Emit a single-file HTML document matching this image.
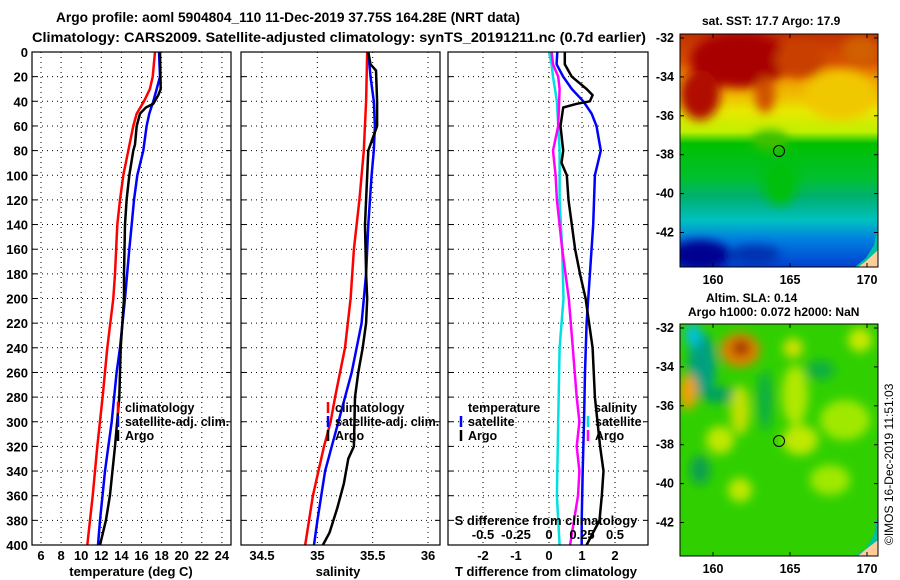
<!DOCTYPE html>
<html><head><meta charset="utf-8"><style>
body{margin:0;background:#fff;}
svg{display:block;font-family:"Liberation Sans",sans-serif;font-weight:bold;}
</style></head><body>
<svg id="c" width="900" height="580" viewBox="0 0 900 580">
<defs>
<linearGradient id="sst" x1="0" y1="0" x2="0" y2="1">
<stop offset="0" stop-color="#c03000"/><stop offset="0.12" stop-color="#d85000"/>
<stop offset="0.2" stop-color="#f0a000"/><stop offset="0.27" stop-color="#f0c000"/>
<stop offset="0.33" stop-color="#e8e800"/><stop offset="0.42" stop-color="#c0f000"/>
<stop offset="0.47" stop-color="#00c000"/><stop offset="0.62" stop-color="#00c030"/>
<stop offset="0.7" stop-color="#00b070"/><stop offset="0.8" stop-color="#00c0c0"/>
<stop offset="0.88" stop-color="#0080e0"/><stop offset="1" stop-color="#0040d0"/>
</linearGradient>
<filter id="bl"><feGaussianBlur stdDeviation="5"/></filter>
<clipPath id="m1"><rect x="680" y="34" width="198" height="233"/></clipPath>
<clipPath id="m2"><rect x="680" y="324" width="198" height="232"/></clipPath>
</defs>
<text x="56" y="22" font-size="14" textLength="464" lengthAdjust="spacingAndGlyphs">Argo profile: aoml 5904804_110 11-Dec-2019 37.75S 164.28E (NRT data)</text>
<text x="32" y="42" font-size="14" textLength="614" lengthAdjust="spacingAndGlyphs">Climatology: CARS2009. Satellite-adjusted climatology: synTS_20191211.nc (0.7d earlier)</text>
<g id="panels"></g>
<!-- SST map -->
<g clip-path="url(#m1)">
<rect x="680" y="34" width="198" height="233" fill="url(#sst)"/>
<g filter="url(#bl)">
<ellipse cx="740" cy="60" rx="50" ry="28" fill="#a80000"/>
<ellipse cx="700" cy="95" rx="20" ry="25" fill="#b01000"/>
<ellipse cx="800" cy="60" rx="25" ry="18" fill="#c84000"/>
<ellipse cx="860" cy="50" rx="18" ry="14" fill="#d06000"/>
<ellipse cx="840" cy="95" rx="35" ry="25" fill="#f0c800"/>
<ellipse cx="765" cy="95" rx="10" ry="18" fill="#d05000"/>
<ellipse cx="700" cy="255" rx="30" ry="15" fill="#000090"/>
<ellipse cx="755" cy="255" rx="25" ry="10" fill="#0030b0"/>
<ellipse cx="780" cy="180" rx="18" ry="25" fill="#00c010"/>
<ellipse cx="770" cy="140" rx="18" ry="10" fill="#40c000"/>
</g>
<path d="M878 225 L874 245 L866 258 L855 267 L878 267Z" fill="#00c0a0"/>
<path d="M878 250 L865 262 L858 267 L878 267Z" fill="#ffcc99"/>
</g>
<rect x="680" y="34" width="198" height="233" fill="none" stroke="#000"/>
<circle cx="779" cy="151" r="5.5" fill="none" stroke="#000"/>
<text x="702" y="25" font-size="12">sat. SST: 17.7 Argo: 17.9</text>
<!-- SLA map -->
<g clip-path="url(#m2)">
<rect x="680" y="324" width="198" height="232" fill="#30d000"/>
<g filter="url(#bl)">
<ellipse cx="702" cy="365" rx="14" ry="32" fill="#00a080"/>
<ellipse cx="720" cy="395" rx="20" ry="8" fill="#00a060"/>
<ellipse cx="693" cy="335" rx="8" ry="12" fill="#00c0e0"/>
<ellipse cx="740" cy="350" rx="20" ry="17" fill="#e08000"/>
<ellipse cx="741" cy="348" rx="9" ry="8" fill="#a03000"/>
<ellipse cx="688" cy="392" rx="9" ry="18" fill="#f0a000"/>
<ellipse cx="740" cy="410" rx="10" ry="25" fill="#c0e000"/>
<ellipse cx="795" cy="395" rx="13" ry="30" fill="#b0e800"/>
<ellipse cx="800" cy="440" rx="18" ry="15" fill="#c0e800"/>
<ellipse cx="720" cy="440" rx="14" ry="14" fill="#c0e800"/>
<ellipse cx="740" cy="490" rx="12" ry="12" fill="#c0e800"/>
<ellipse cx="860" cy="340" rx="12" ry="12" fill="#c8e800"/>
<ellipse cx="793" cy="348" rx="10" ry="10" fill="#d0e000"/>
<ellipse cx="845" cy="420" rx="25" ry="20" fill="#a0e800"/>
<ellipse cx="830" cy="480" rx="20" ry="15" fill="#a0e800"/>
<ellipse cx="765" cy="400" rx="8" ry="30" fill="#10b040"/>
<ellipse cx="700" cy="470" rx="10" ry="15" fill="#10a050"/>
<ellipse cx="820" cy="370" rx="15" ry="10" fill="#10b040"/>
</g>
<path d="M878 510 L874 535 L866 548 L855 556 L878 556Z" fill="#00c0a0"/>
<path d="M878 540 L865 550 L858 556 L878 556Z" fill="#ffcc99"/>
</g>
<rect x="680" y="324" width="198" height="232" fill="none" stroke="#000"/>
<circle cx="779" cy="441" r="5.5" fill="none" stroke="#000"/>
<text x="706" y="302" font-size="12">Altim. SLA: 0.14</text>
<text x="688" y="316" font-size="12">Argo h1000: 0.072 h2000: NaN</text>
<text transform="translate(893,545) rotate(-90)" font-size="12" font-weight="normal">©IMOS 16-Dec-2019 11:51:03</text>
<g id="maps"></g>
</svg>
<script>
const tDepthRed=[0,20,30,40,50,60,80,100,120,140,180,200,240,280,320,360,400];
const tempClim=[17.34,17.11,16.84,16.25,15.52,15.18,14.69,14.19,13.86,13.59,13.36,13.19,12.6,12.13,11.6,11.14,10.61];
const tDepthBlue=[0,20,30,40,50,60,80,100,120,140,160,200,240,260,300,340,380,400];
const tempSat=[17.74,17.84,17.51,17.17,16.78,16.51,16.18,15.58,15.25,15.02,14.79,14.36,13.86,13.52,13.03,12.37,11.87,11.67];
const tDepthArgo=[0,30,35,42,45,50,60,75,80,100,120,140,180,200,240,280,320,360,380,400];
const tempArgo=[17.84,17.91,17.67,17.17,16.44,15.85,15.52,15.35,15.18,14.79,14.52,14.36,14.26,14.26,13.93,13.79,13.36,12.86,12.46,11.87];
const sDepthRed=[0,40,80,100,120,160,200,240,280,300,320,360,400];
const salClim=[35.45,35.44,35.42,35.4,35.38,35.33,35.3,35.25,35.16,35.12,35.06,34.96,34.89];
const sDepthBlue=[0,20,40,60,80,100,140,180,220,260,300,340,380,400];
const salSat=[35.46,35.48,35.51,35.52,35.51,35.49,35.46,35.44,35.4,35.31,35.19,35.07,35.0,34.97];
const sDepthArgo=[0,10,15,40,60,75,80,100,140,180,200,220,240,260,280,320,330,350,370,390,400];
const salArgo=[35.46,35.48,35.53,35.54,35.54,35.48,35.46,35.45,35.43,35.44,35.45,35.44,35.41,35.37,35.34,35.33,35.28,35.24,35.18,35.11,35.05];
const dDepthTsat=[0,10,20,30,40,50,60,80,100,140,180,220,260,300,340,380,400];
const tDiffSat=[0.25,0.23,0.43,0.69,1.04,1.29,1.44,1.57,1.39,1.34,1.24,1.14,1.09,1.06,1.02,0.99,0.99];
const dDepthTargo=[0,10,20,30,35,40,42,45,60,80,90,100,120,140,160,180,200,240,280,320,340,360,380,400];
const tDiffArgo=[0.48,0.48,0.69,1.14,1.32,1.24,0.84,0.43,0.35,0.43,0.38,0.54,0.59,0.69,0.79,0.94,1.11,1.32,1.39,1.55,1.65,1.6,1.53,1.14];
const dDepthSsat=[0,10,20,40,80,120,160,200,240,300,360,400];
const sDiffSat=[0,0.02,0.03,0.06,0.08,0.08,0.1,0.11,0.08,0.07,0.06,0.08];
const dDepthSargo=[0,10,20,30,60,80,100,120,160,200,240,280,300,320,340,360,400];
const sDiffArgo=[0.02,0.03,0.07,0.08,0.07,0.03,0.05,0.06,0.1,0.15,0.18,0.21,0.23,0.21,0.23,0.22,0.16];
const depthTicks=[0,20,40,60,80,100,120,140,160,180,200,220,240,260,280,300,320,340,360,380,400];
const tempTicks=[6,8,10,12,14,16,18,20,22,24];
const salTicks=[34.5,35,35.5,36];
const tDiffTicks=[-2,-1,0,1,2];
const sDiffTicks=[-0.5,-0.25,0,0.25,0.5];
const mapLatTicks=[-32,-34,-36,-38,-40,-42];
const mapLonTicks=[160,165,170];

const NS='http://www.w3.org/2000/svg';
const P=document.getElementById('panels');
function mk(tag,at,parent){const e=document.createElementNS(NS,tag);for(const k in at)e.setAttribute(k,at[k]);(parent||P).appendChild(e);return e;}
const Y0=52,Y1=545;
const yD=d=>Y0+d*(Y1-Y0)/400;
const xT=t=>41+(t-6)*10.05;
const xS=s=>262+(s-34.5)*110.7;
const xTd=t=>549+t*33;
const xSd=s=>549+s*132;

function grid(x0,x1,xs){
  depthTicks.forEach(d=>{if(d>0&&d<400){const l=mk('line',{x1:x0,x2:x1,y1:yD(d),y2:yD(d),stroke:'#000','stroke-dasharray':'1,4','stroke-width':1});}
    const t=mk('line',{x1:x0,x2:x0+5,y1:yD(d),y2:yD(d),stroke:'#000'});
    const t2=mk('line',{x1:x1-5,x2:x1,y1:yD(d),y2:yD(d),stroke:'#000'});});
  xs.forEach(x=>{const l=mk('line',{x1:x,x2:x,y1:Y0,y2:Y1,stroke:'#000','stroke-dasharray':'1,4'});});
}
function frame(x0,x1,name){const r=mk('rect',{x:x0,y:Y0,width:x1-x0,height:Y1-Y0,fill:'none',stroke:'#000','stroke-width':1.2});}
function line(ds,vs,fx,col,name){const pts=ds.map((d,i)=>fx(vs[i]).toFixed(1)+','+yD(d).toFixed(1)).join(' ');const p=mk('polyline',{points:pts,fill:'none',stroke:col,'stroke-width':2.5,'stroke-linejoin':'round'});}
function txt(x,y,s,opt){const t=mk('text',Object.assign({x:x,y:y,'font-size':12.5},opt||{}));t.textContent=s;return t;}
function legend(x,items){items.forEach((it,i)=>{const y=410+i*14;const l=mk('line',{x1:x,x2:x,y1:y-8,y2:y+3,stroke:it[1],'stroke-width':2.5});const t=txt(x+7,y+2,it[0]);});}

// panel 1
grid(32,231,tempTicks.map(xT));
line(tDepthRed,tempClim,xT,'#f00','temp-climatology-line');
line(tDepthBlue,tempSat,xT,'#00f','temp-satellite-line');
line(tDepthArgo,tempArgo,xT,'#000','temp-argo-line');
frame(32,231,'temperature-plot-frame');
depthTicks.forEach(d=>{const t=txt(28,yD(d)+5,d,{'text-anchor':'end','font-size':13});});
tempTicks.forEach(v=>{const t=txt(xT(v),560,v,{'text-anchor':'middle','font-size':13});});
{const t=txt(131,576,'temperature (deg C)',{'text-anchor':'middle','font-size':13});}
legend(118,[['climatology','#f00'],['satellite-adj. clim.','#00f'],['Argo','#000']]);

// panel 2
grid(241,440,salTicks.map(xS));
line(sDepthRed,salClim,xS,'#f00','sal-climatology-line');
line(sDepthBlue,salSat,xS,'#00f','sal-satellite-line');
line(sDepthArgo,salArgo,xS,'#000','sal-argo-line');
frame(241,440,'salinity-plot-frame');
salTicks.forEach(v=>{const t=txt(xS(v),560,v,{'text-anchor':'middle','font-size':13});});
{const t=txt(338,576,'salinity',{'text-anchor':'middle','font-size':13});}
legend(328,[['climatology','#f00'],['satellite-adj. clim.','#00f'],['Argo','#000']]);

// panel 3
grid(448,648,tDiffTicks.map(xTd));
line(dDepthSsat,sDiffSat,xSd,'#00e0e0','sdiff-satellite-line');
line(dDepthSargo,sDiffArgo,xSd,'#f0f','sdiff-argo-line');
line(dDepthTsat,tDiffSat,xTd,'#00f','tdiff-satellite-line');
line(dDepthTargo,tDiffArgo,xTd,'#000','tdiff-argo-line');
frame(448,648,'difference-plot-frame');
tDiffTicks.forEach(v=>{const t=txt(xTd(v),560,v,{'text-anchor':'middle','font-size':13});});
sDiffTicks.forEach(v=>{const t=txt(xSd(v),539,v,{'text-anchor':'middle','font-size':13});});
{const t=txt(546,525,'S difference from climatology',{'text-anchor':'middle','font-size':13});}
{const t=txt(546,576,'T difference from climatology',{'text-anchor':'middle','font-size':13});}
{const t=txt(468,412,'temperature');}
{const t=txt(594,412,'salinity');}
[['satellite','#00f',461],['Argo','#000',461],['satellite','#00e0e0',588],['Argo','#f0f',588]].forEach((it,i)=>{const y=424+(i%2)*14;const l=mk('line',{x1:it[2],x2:it[2],y1:y-8,y2:y+3,stroke:it[1],'stroke-width':2.5});const t=txt(it[2]+7,y+2,it[0]);});

// map axes
const M=document.getElementById('maps');
const xLon=l=>713+(l-160)*15.4;
[[34,267,38],[324,556,328]].forEach(m=>{
  mapLatTicks.forEach(la=>{const y=m[2]+(-32-la)*19.45;
    const a=mk('line',{x1:680,x2:684,y1:y,y2:y,stroke:'#000'},M);
    const b=mk('line',{x1:874,x2:878,y1:y,y2:y,stroke:'#000'},M);
    const t=mk('text',{x:674,y:y+4,'font-size':12.5,'text-anchor':'end'},M);t.textContent=la;});
  mapLonTicks.forEach(lo=>{const x=xLon(lo);
    const a=mk('line',{x1:x,x2:x,y1:m[1]-4,y2:m[1],stroke:'#000'},M);
    const b=mk('line',{x1:x,x2:x,y1:m[0],y2:m[0]+4,stroke:'#000'},M);
    const t=mk('text',{x:x,y:m[1]+17,'font-size':12.5,'text-anchor':'middle'},M);t.textContent=lo;});
});
</script>
</body></html>
